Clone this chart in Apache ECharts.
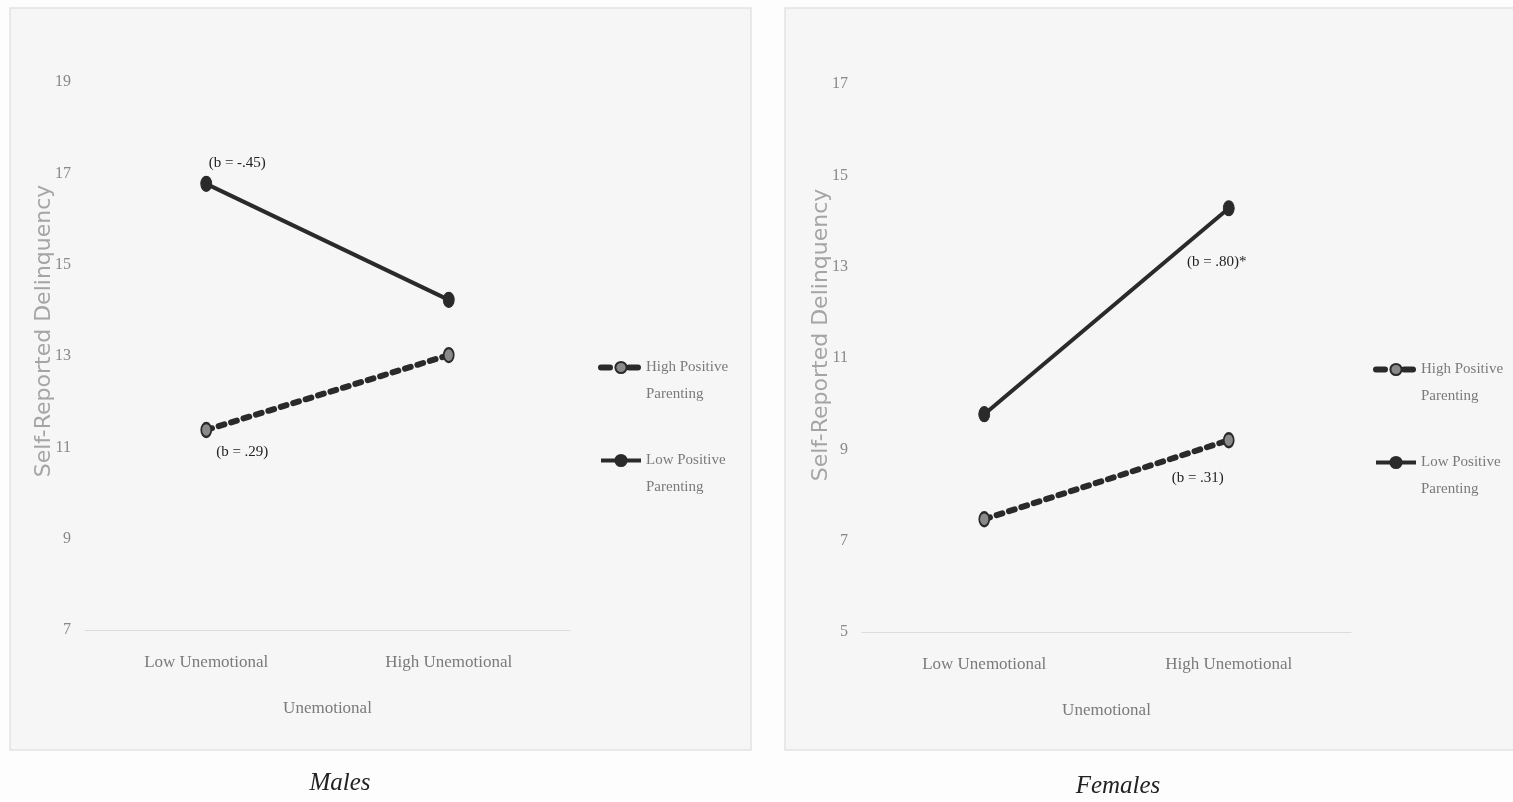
<!DOCTYPE html>
<html>
<head>
<meta charset="utf-8">
<script src="https://cdn.jsdelivr.net/npm/echarts@6/dist/echarts.min.js"></script>
<style>
html,body{margin:0;padding:0;background:#fdfdfd;}
#chart{width:1513px;height:802px;}
</style>
</head>
<body>
<div id="chart"></div>
<script>
// ---- data ----
const categories = ['Low Unemotional', 'High Unemotional'];
const seriesNames = ['High Positive\nParenting', 'Low Positive\nParenting'];
const malesHigh = [11.38, 13.02];
const malesLow = [16.77, 14.23];
const femalesHigh = [7.47, 9.2];
const femalesLow = [9.77, 14.28];
const malesTicks = [7, 9, 11, 13, 15, 17, 19];
const femalesTicks = [5, 7, 9, 11, 13, 15, 17];
const panelTitles = ['Males', 'Females'];
const yName = 'Self-Reported Delinquency';
const xName = 'Unemotional';
const noteMalesLow = '(b = -.45)';
const noteMalesHigh = '(b = .29)';
const noteFemalesLow = '(b = .80)*';
const noteFemalesHigh = '(b = .31)';

const chart = echarts.init(document.getElementById('chart'));
const serif = '"Liberation Serif", "Times New Roman", serif';
const dark = '#2a2a2a';

function withNote(values, idx, text, offset) {
  return values.map((v, i) => i === idx ? {
    value: v,
    label: {
      show: true, formatter: text, position: 'inside', offset: offset,
      fontFamily: serif, fontSize: 15, color: '#222'
    }
  } : v);
}

function xAxis(gridIndex) {
  return {
    type: 'category', gridIndex, data: categories, boundaryGap: true,
    axisLine: { show: true, lineStyle: { color: '#dcdcdc', width: 1 } },
    axisTick: { show: false },
    axisLabel: { fontFamily: serif, fontSize: 17, color: '#7a7a7a', margin: 24 },
    name: xName, nameLocation: 'middle', nameGap: 70,
    nameTextStyle: { fontFamily: serif, fontSize: 17, color: '#7a7a7a' }
  };
}
function yAxis(gridIndex, ticks, shift) {
  return {
    type: 'value', gridIndex, min: ticks[0], max: ticks[ticks.length - 1],
    axisLine: { show: false }, axisTick: { show: false },
    splitLine: { show: false },
    axisLabel: { customValues: ticks, fontFamily: serif, fontSize: 16, color: '#888', margin: 14 },
    name: yName, nameLocation: 'middle', nameGap: 30, nameRotate: 90,
    nameMoveOverlap: false,
    nameTextStyle: { fontFamily: '"DejaVu Sans", sans-serif', fontSize: 22, color: '#a5a5a5', padding: [0, 0, 0, shift] }
  };
}
function highSeries(name, x, data) {
  return {
    name, type: 'line', xAxisIndex: x, yAxisIndex: x, data,
    symbol: 'circle', symbolSize: [10, 14],
    lineStyle: { color: dark, width: 6, type: [6, 7], cap: 'round' },
    itemStyle: { color: '#8a8a8a', borderColor: dark, borderWidth: 2 },
    emphasis: { disabled: true }, animation: false, z: 3
  };
}
function lowSeries(name, x, data) {
  return {
    name, type: 'line', xAxisIndex: x, yAxisIndex: x, data,
    symbol: 'circle', symbolSize: [11, 15],
    lineStyle: { color: dark, width: 4 },
    itemStyle: { color: dark, borderColor: dark, borderWidth: 1 },
    emphasis: { disabled: true }, animation: false, z: 4
  };
}
function legend(left, top) {
  return {
    left, top, orient: 'vertical', itemWidth: 40, itemHeight: 14, itemGap: 12,
    data: [
      { name: seriesNames[0], lineStyle: { type: [9, 19] } },
      { name: seriesNames[1] }
    ],
    selectedMode: false,
    formatter: name => '\n' + name,
    lineStyle: { width: 'inherit' },
    textStyle: { fontFamily: serif, fontSize: 15, color: '#7a7a7a', lineHeight: 27 }
  };
}

chart.setOption({
  backgroundColor: '#fdfdfd',
  animation: false,
  graphic: [
    { type: 'rect', shape: { x: 10, y: 8, width: 741, height: 742 }, style: { fill: '#f6f6f6', stroke: '#e2e2e2', lineWidth: 1.5 }, z: -10 },
    { type: 'rect', shape: { x: 785, y: 8, width: 740, height: 742 }, style: { fill: '#f6f6f6', stroke: '#e2e2e2', lineWidth: 1.5 }, z: -10 }
  ],
  title: [
    { text: panelTitles[0], left: 335, top: 766, textAlign: 'center', textStyle: { fontFamily: serif, fontStyle: 'italic', fontWeight: 'normal', fontSize: 25, color: '#222' } },
    { text: panelTitles[1], left: 1113, top: 769, textAlign: 'center', textStyle: { fontFamily: serif, fontStyle: 'italic', fontWeight: 'normal', fontSize: 25, color: '#222' } }
  ],
  legend: [legend(593, 322), legend(1368, 324)],
  grid: [
    { left: 85, right: 943, top: 82, bottom: 172 },
    { left: 862, right: 162, top: 84, bottom: 170 }
  ],
  xAxis: [xAxis(0), xAxis(1)],
  yAxis: [yAxis(0, malesTicks, 50), yAxis(1, femalesTicks, 46)],
  series: [
    highSeries(seriesNames[0], 0, withNote(malesHigh, 0, noteMalesHigh, [36, 22])),
    lowSeries(seriesNames[1], 0, withNote(malesLow, 0, noteMalesLow, [31, -21])),
    highSeries(seriesNames[0], 1, withNote(femalesHigh, 1, noteFemalesHigh, [-31, 38])),
    lowSeries(seriesNames[1], 1, withNote(femalesLow, 1, noteFemalesLow, [-12, 54]))
  ]
});
</script>
</body>
</html>
